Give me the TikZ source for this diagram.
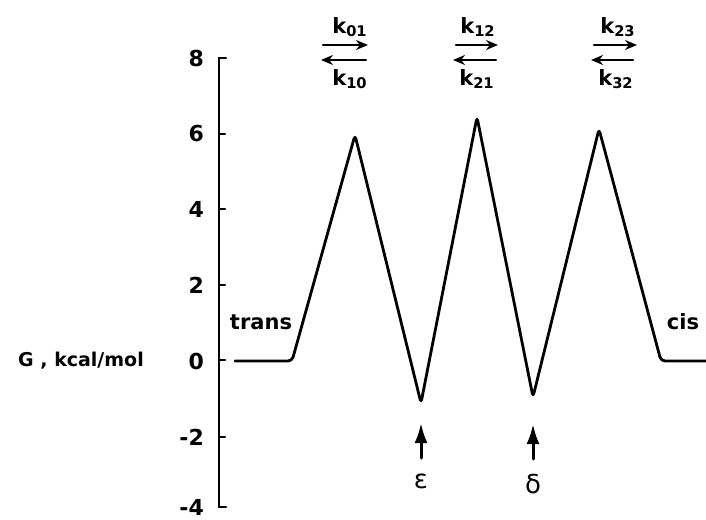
\documentclass[tikz,border=0pt]{standalone}
\usepackage{fontspec}
\setmainfont{DejaVu Sans}
\usetikzlibrary{arrows.meta}

\tikzset{
ticklabel/.style={anchor=east,font=\fontsize{11}{11}\selectfont\bfseries},
ratelabel/.style={font=\fontsize{10.5}{11}\selectfont\bfseries},
curvetext/.style={font=\fontsize{10.5}{11}\selectfont\bfseries},
greeklabel/.style={font=\fontsize{13}{13}\selectfont}
}

\begin{document}
\begin{tikzpicture}[x=0.5pt,y=-0.5pt,line cap=round]

\useasboundingbox (0,0) rectangle (706,519);

% axis
\draw[line width=1.2pt] (226,58) -- (219,58) -- (219,507) -- (226,507);
\foreach \v/\y in {6/134,4/209,2/285,0/360,-2/437}
  \draw[line width=1.2pt] (219,\y) -- (225,\y);

\node[ticklabel] (t8) at (211,58) {8};
\node[ticklabel] (t6) at (211,134) {6};
\node[ticklabel] (t4) at (211,209) {4};
\node[ticklabel] (t2) at (211,285) {2};
\node[ticklabel] (t0) at (211,361) {0};
\node[ticklabel] (tm2) at (211,437) {-2};
\node[ticklabel] (tm4) at (211,507) {-4};

\node[font=\fontsize{9.5}{10}\selectfont\bfseries] (ylab) at (81,361) {G , kcal/mol};

% free energy profile
\coordinate (p0) at (235,361);
\coordinate (p1) at (292,361);
\coordinate (p2) at (355,135);
\coordinate (p3) at (421,403);
\coordinate (p4) at (477,117);
\coordinate (p5) at (533,397);
\coordinate (p6) at (599,129);
\coordinate (p7) at (661,361);
\coordinate (p8) at (706,361);

\draw[line width=1.4pt,rounded corners=2pt,line join=round]
(p0) -- (p1) -- (p2) -- (p3) -- (p4) -- (p5) -- (p6) -- (p7) -- (p8);

\node[curvetext] (trans) at (261,322) {trans};
\node[curvetext] (cis) at (683,322) {cis};

% rate constants
\node[ratelabel] (k01) at (350,27) {k\textsubscript{01}};
\node[ratelabel] (k10) at (350,79) {k\textsubscript{10}};
\node[ratelabel] (k12) at (478,27) {k\textsubscript{12}};
\node[ratelabel] (k21) at (477,79) {k\textsubscript{21}};
\node[ratelabel] (k23) at (618,27) {k\textsubscript{23}};
\node[ratelabel] (k32) at (616,79) {k\textsubscript{32}};

\coordinate (f1a) at (323,45);
\coordinate (f1b) at (368,45);
\coordinate (b1a) at (366,60);
\coordinate (b1b) at (321,60);
\coordinate (f2a) at (456,45);
\coordinate (f2b) at (498,45);
\coordinate (b2a) at (496,60);
\coordinate (b2b) at (453,60);
\coordinate (f3a) at (594,45);
\coordinate (f3b) at (637,45);
\coordinate (b3a) at (633,60);
\coordinate (b3b) at (591,60);

\draw[line width=1.2pt,-{Stealth[length=6pt,width=5pt]}] (f1a) -- (f1b);
\draw[line width=1.2pt,-{Stealth[length=6pt,width=5pt]}] (b1a) -- (b1b);
\draw[line width=1.2pt,-{Stealth[length=6pt,width=5pt]}] (f2a) -- (f2b);
\draw[line width=1.2pt,-{Stealth[length=6pt,width=5pt]}] (b2a) -- (b2b);
\draw[line width=1.2pt,-{Stealth[length=6pt,width=5pt]}] (f3a) -- (f3b);
\draw[line width=1.2pt,-{Stealth[length=6pt,width=5pt]}] (b3a) -- (b3b);

% intermediates
\node[greeklabel] (eps) at (421,481) {ε};
\node[greeklabel] (del) at (533,484) {δ};

\coordinate (e1) at (421,423);
\coordinate (d1) at (533,424);
\draw[line width=1.5pt,-{Latex[length=10pt,width=6.5pt]}] (421,458) -- (e1);
\draw[line width=1.5pt,-{Latex[length=10pt,width=6.5pt]}] (533,459) -- (d1);

\end{tikzpicture}
\end{document}
